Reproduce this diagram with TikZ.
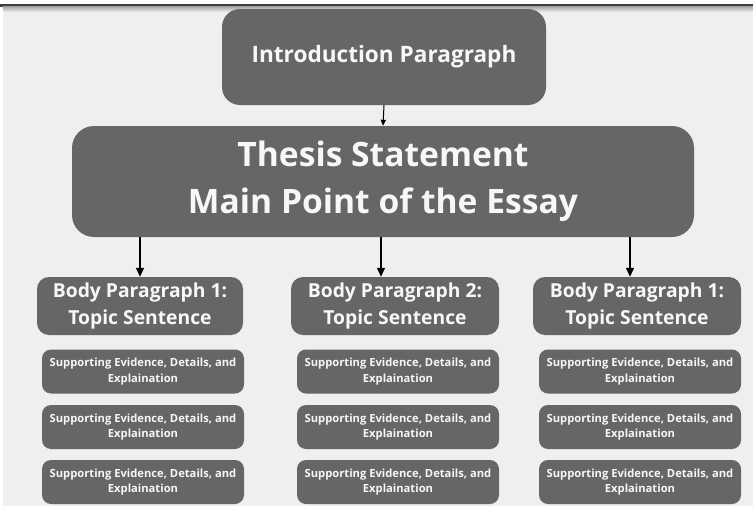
\documentclass[tikz,border=0pt]{standalone}
\usepackage{fontspec}
\setmainfont{Open Sans}
\usetikzlibrary{arrows.meta}
\definecolor{pagebg}{HTML}{EFEFEF}
\definecolor{boxfill}{HTML}{666666}
\definecolor{boxtext}{HTML}{F7F7F7}
\tikzset{
  box/.style={draw=none, fill=boxfill, text=boxtext, align=center, inner sep=0pt,
    font=\bfseries},
  introbox/.style={box, minimum width=324pt, minimum height=96pt, rounded corners=18pt,
    font=\bfseries\fontsize{22.6}{27}\selectfont},
  thesisbox/.style={box, minimum width=622pt, minimum height=111pt, rounded corners=22pt,
    font=\bfseries\fontsize{33.6}{47}\selectfont},
  bodybox/.style={box, minimum height=58pt, rounded corners=12pt,
    font=\bfseries\fontsize{19.3}{26.5}\selectfont},
  supbox/.style={box, minimum height=44pt, rounded corners=9pt,
    font=\bfseries\fontsize{11.2}{15.5}\selectfont},
  arr/.style={draw=black, line width=1.3pt, -{Triangle[length=9pt,width=8pt]}},
  smallarr/.style={draw=black, line width=1pt, -{Triangle[length=6pt,width=5pt]}}
}
\begin{document}
\begin{tikzpicture}[x=1pt, y=-1pt]
  % canvas and top rule
  \fill[pagebg] (0,0) rectangle (753,506);
  \useasboundingbox (0,0) rectangle (753,506);
  \fill[white] (0,0) rectangle (753,4);
  \fill[white] (0,0) rectangle (3,506);
  \fill[black!75] (0,4) rectangle (753,6.5);
  \shade[top color=black!35, bottom color=pagebg] (3,6.5) rectangle (753,12);

  % top level
  \node[introbox] (intro) at (384,57) {Introduction Paragraph};
  \node[thesisbox] (thesis) at (383,181.5) {Thesis Statement\\Main Point of the Essay};

  % body paragraphs
  \node[bodybox, minimum width=206pt] (b1) at (140,306) {Body Paragraph 1:\\Topic Sentence};
  \node[bodybox, minimum width=208pt] (b2) at (395,306) {Body Paragraph 2:\\Topic Sentence};
  \node[bodybox, minimum width=208pt] (b3) at (637,306) {Body Paragraph 1:\\Topic Sentence};

  % supporting boxes, three per column
  \foreach \col/\cx/\w in {1/143/202, 2/398/202, 3/640/202}{
    \foreach \row/\cy in {1/371.5, 2/427, 3/482}{
      \node[supbox, minimum width=\w pt] (s\col\row) at (\cx,\cy)
        {Supporting Evidence, Details, and\\Explaination};
    }
  }

  % connectors
  \draw[smallarr] (intro.south) -- (thesis.north);
  \draw[arr] (thesis.south -| b1.north) -- (b1.north);
  \draw[arr] ([xshift=-14pt]thesis.south -| b2.north) -- ([xshift=-14pt]b2.north);
  \draw[arr] ([xshift=-7pt]thesis.south -| b3.north) -- ([xshift=-7pt]b3.north);
\end{tikzpicture}
\end{document}
